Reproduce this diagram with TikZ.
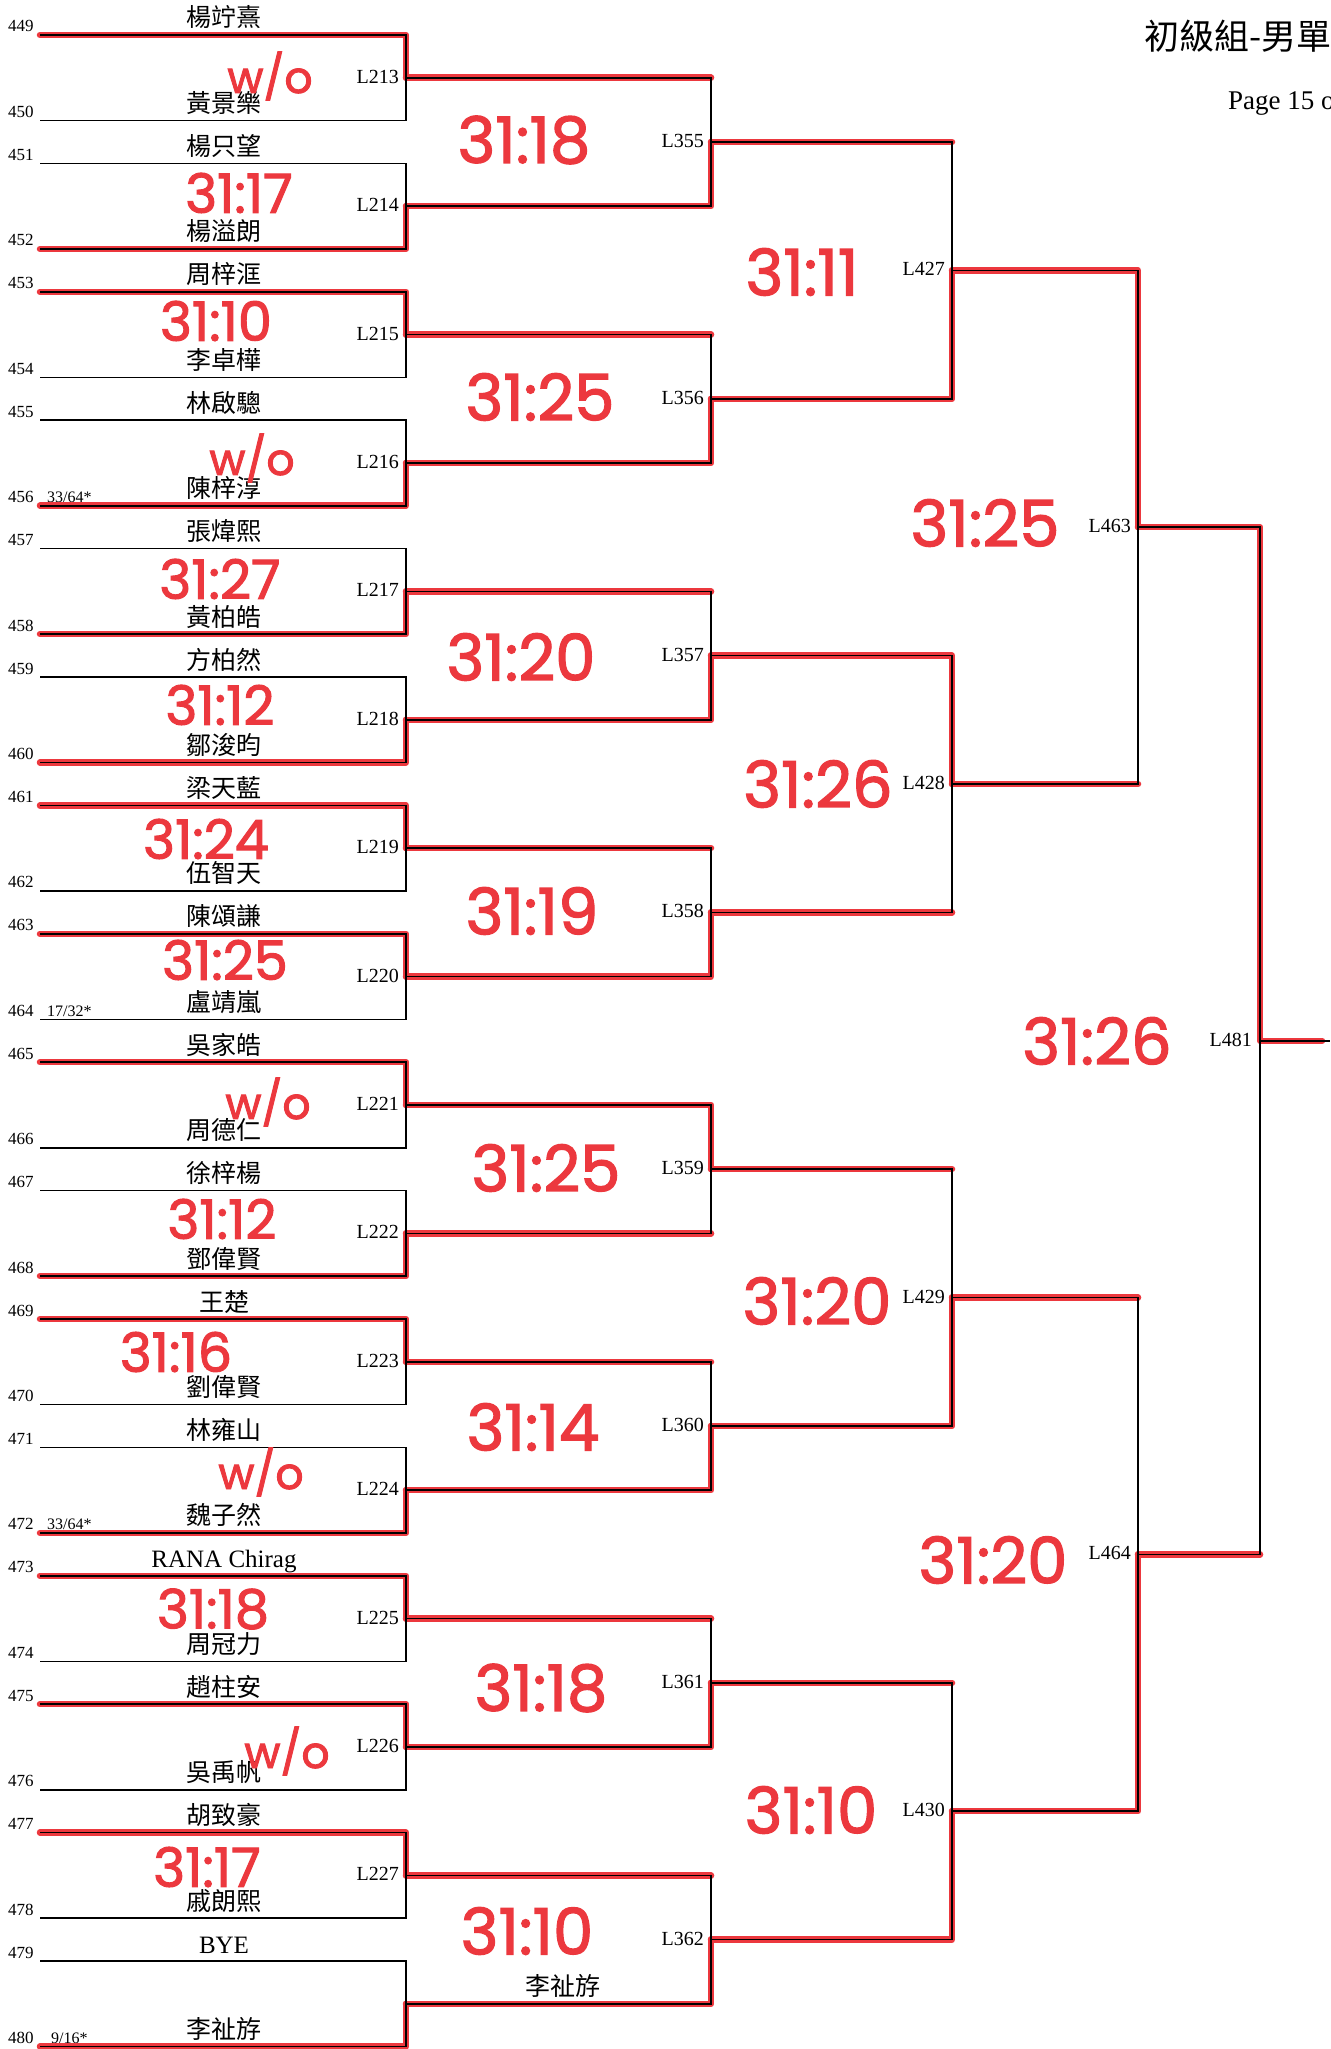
\documentclass[tikz,border=0pt]{standalone}
\usepackage{fontspec}
\setmainfont{Liberation Serif}
\newfontfamily\cjk{Noto Sans CJK TC}
\newfontfamily\hand{Poppins}[FakeBold=2]
\usetikzlibrary{calc}
\definecolor{markred}{RGB}{236,56,62}

\begin{document}
\begin{tikzpicture}[x=1pt, y=-1pt, every node/.style={inner sep=0pt},
    bline/.style={black, line width=1.6pt},
    rline/.style={markred, line width=6.5pt, line cap=round, line join=round},
    slotno/.style={anchor=base west, font=\fontsize{17}{17}\selectfont},
    seed/.style={anchor=base west, font=\fontsize{16}{16}\selectfont},
    player/.style={anchor=base, font=\cjk\fontsize{25}{25}\selectfont},
    match/.style={anchor=east, font=\fontsize{20}{20}\selectfont},
    score/.style={markred, font=\hand\fontsize{54}{54}\selectfont},
    bigscore/.style={markred, font=\hand\fontsize{64}{64}\selectfont},
    walkover/.style={markred, font=\hand\fontsize{44}{44}\selectfont}]
  \useasboundingbox (0,0) rectangle (1330,2049);
  \fill[white] (0,0) rectangle (1330,2049);

  % entry lines, numbers and players
  \foreach \n/\nm [count=\i from 0] in {449/楊竚熹, 450/黃景樂, 451/楊只望, 452/楊溢朗,
      453/周梓洭, 454/李卓樺, 455/林啟驄, 456/陳梓淳, 457/張煒熙, 458/黃柏皓,
      459/方柏然, 460/鄒浚昀, 461/梁天藍, 462/伍智天, 463/陳頌謙, 464/盧靖嵐,
      465/吳家皓, 466/周德仁, 467/徐梓楊, 468/鄧偉賢, 469/王楚, 470/劉偉賢,
      471/林雍山, 472/魏子然, 473/{\rmfamily RANA Chirag}, 474/周冠力, 475/趙柱安,
      476/吳禹帆, 477/胡致豪, 478/戚朗熙, 479/{\rmfamily BYE}, 480/李祉斿} {
    \pgfmathsetmacro\y{35+128.4*int(\i/2)+85.5*mod(\i,2)}
    \coordinate (s\i) at (40,\y);
    \node[slotno] (no\n) at (8,\y-3) {\n};
    \node[player] (p\n) at (224,\y-8) {\nm};
  }
  \node[seed] (seed456) at ($(s7)+(7,-3)$) {33/64*};
  \node[seed] (seed464) at ($(s15)+(7,-3)$) {17/32*};
  \node[seed] (seed472) at ($(s23)+(7,-3)$) {33/64*};
  \node[seed] (seed480) at ($(s31)+(11,-3)$) {9/16*};

  % match points
  \foreach \k in {0,...,15} { \coordinate (a\k) at (406,{77.75+128.4*\k}); }
  \foreach \k in {0,...,7} { \coordinate (b\k) at (711,{141.95+256.8*\k}); }
  \foreach \k in {0,...,3} { \coordinate (c\k) at (952,{270.35+513.6*\k}); }
  \foreach \k in {0,1} { \coordinate (d\k) at (1138,{527.15+1027.2*\k}); }
  \coordinate (e) at (1260,1040.75);
  \coordinate (out) at (1330,1040.75);

  % marker: winners
  \foreach \k/\w in {0/0,1/1,2/0,3/1,4/1,5/1,6/0,7/0,8/0,9/1,10/0,11/1,12/0,13/0,14/0,15/1} {
    \pgfmathtruncatemacro\win{2*\k+\w}
    \draw[rline] (s\win) -| (a\k);
  }
  \foreach \k/\w in {0/1,1/1,2/1,3/1,4/0,5/1,6/1,7/1} {
    \pgfmathtruncatemacro\win{2*\k+\w}
    \pgfmathtruncatemacro\lose{2*\k+1-\w}
    \draw[rline] (a\lose) -- (a\lose -| b\k);
    \draw[rline] (a\win) -| (b\k);
  }
  \foreach \k/\w in {0/1,1/0,2/1,3/1} {
    \pgfmathtruncatemacro\win{2*\k+\w}
    \pgfmathtruncatemacro\lose{2*\k+1-\w}
    \draw[rline] (b\lose) -- (b\lose -| c\k);
    \draw[rline] (b\win) -| (c\k);
  }
  \foreach \k/\w in {0/0,1/1} {
    \pgfmathtruncatemacro\win{2*\k+\w}
    \pgfmathtruncatemacro\lose{2*\k+1-\w}
    \draw[rline] (c\lose) -- (c\lose -| d\k);
    \draw[rline] (c\win) -| (d\k);
  }
  \draw[rline] (d1) -- (d1 -| e);
  \draw[rline] (d0) -| (e) -- ($(out)+(-8,0)$);

  % draw
  \foreach \k in {0,...,15} {
    \pgfmathtruncatemacro\t{2*\k}
    \pgfmathtruncatemacro\b{2*\k+1}
    \draw[bline] (s\t) -| (a\k) |- (s\b);
  }
  \foreach \k in {0,...,7} {
    \pgfmathtruncatemacro\t{2*\k}
    \pgfmathtruncatemacro\b{2*\k+1}
    \draw[bline] (a\t) -| (b\k) |- (a\b);
  }
  \foreach \k in {0,...,3} {
    \pgfmathtruncatemacro\t{2*\k}
    \pgfmathtruncatemacro\b{2*\k+1}
    \draw[bline] (b\t) -| (c\k) |- (b\b);
  }
  \draw[bline] (c0) -| (d0) |- (c1);
  \draw[bline] (c2) -| (d1) |- (c3);
  \draw[bline] (d0) -| (e) |- (d1);
  \draw[bline] (e) -- (out);

  % match labels
  \foreach \k/\lab in {0/213,1/214,2/215,3/216,4/217,5/218,6/219,7/220,
      8/221,9/222,10/223,11/224,12/225,13/226,14/227} {
    \node[match] (L\lab) at ($(a\k)+(-7,-1)$) {L\lab};
  }
  \foreach \k/\lab in {0/355,1/356,2/357,3/358,4/359,5/360,6/361,7/362} {
    \node[match] (L\lab) at ($(b\k)+(-7,-1)$) {L\lab};
  }
  \foreach \k/\lab in {0/427,1/428,2/429,3/430} {
    \node[match] (L\lab) at ($(c\k)+(-7,-1)$) {L\lab};
  }
  \node[match] (L463) at ($(d0)+(-7,-1)$) {L463};
  \node[match] (L464) at ($(d1)+(-7,-1)$) {L464};
  \node[match] (L481) at ($(e)+(-8,-1)$) {L481};
  \node[player] (adv480) at ($(a15)+(157,-8)$) {李祉斿};

  % scores (hand written)
  \foreach \x/\y [count=\q] in {270/76, 252/458, 268/1102, 261/1472, 287/1751} {
    \node[walkover] (wo\q) at (\x,\y) {w/o};
  }
  \foreach \x/\y/\sc [count=\q] in {239/193/31:17, 216/321/31:10,
      220/579/31:27, 220/705/31:12, 206/839/31:24, 225/960/31:25,
      222/1219/31:12, 176/1352/31:16, 213/1609/31:18, 207/1867/31:17} {
    \node[score] (sa\q) at (\x,\y) {\sc};
  }
  \foreach \x/\y/\sc [count=\q] in {524/140/31:18, 540/397/31:25, 521/657/31:20, 532/911/31:19,
      546/1168/31:25, 533/1427/31:14, 541/1688/31:18, 527/1931/31:10,
      802/272/31:11, 818/784/31:26, 817/1301/31:20, 811/1810/31:10,
      985/523/31:25, 993/1560/31:20, 1097/1041/31:26} {
    \node[bigscore] (sb\q) at (\x,\y) {\sc};
  }

  % header
  \node[anchor=west, font=\cjk\fontsize{35}{35}\selectfont] (title) at (1144,36) {初級組-男單};
  \node[anchor=base west, font=\fontsize{27}{27}\selectfont] (page) at (1228,110) {Page 15 of};
\end{tikzpicture}
\end{document}
